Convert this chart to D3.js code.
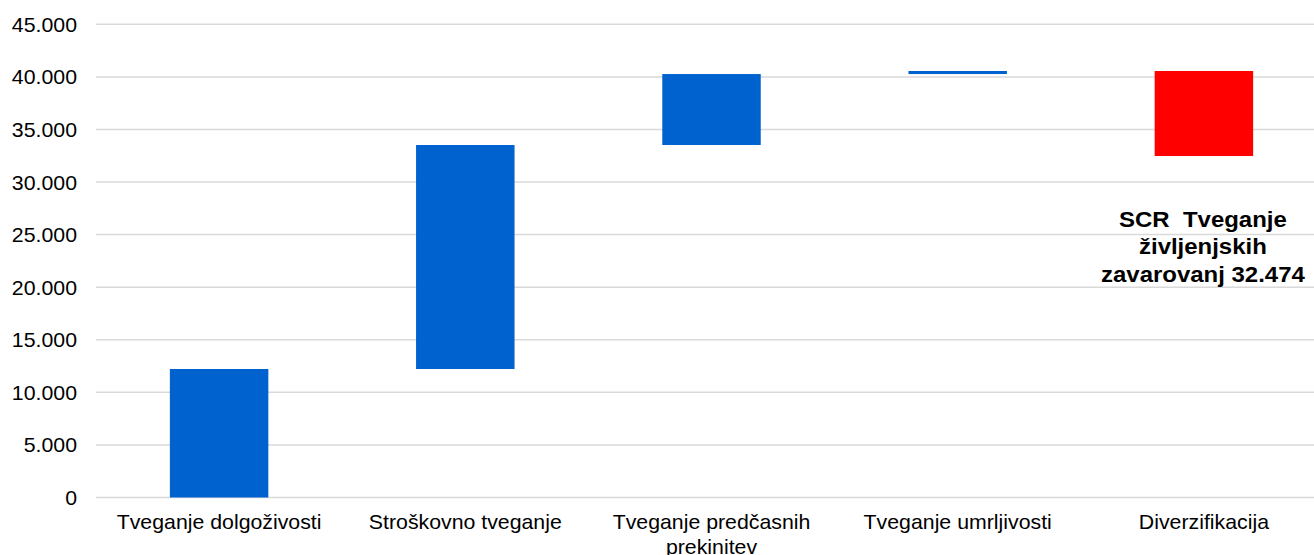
<!DOCTYPE html>
<html>
<head>
<meta charset="utf-8">
<script src="https://cdn.jsdelivr.net/npm/d3@7/dist/d3.min.js"></script>
<style>
  html, body { margin: 0; padding: 0; background: #ffffff; }
  svg { display: block; font-family: "Liberation Sans", Arial, sans-serif; }
</style>
</head>
<body>
<svg id="chart" width="1314" height="555"></svg>
<script>
// Sub-module risks of the life underwriting SCR (waterfall)
const categories = [
  "Tveganje dolgoživosti",
  "Stroškovno tveganje",
  "Tveganje predčasnih prekinitev",
  "Tveganje umrljivosti",
  "Diverzifikacija"
];
// Contribution of each step; the last one is the diversification effect
const deltas = [12220, 21300, 6750, 290, -8086];
const scrTotal = 32474;
const yTicks = [0, 5000, 10000, 15000, 20000, 25000, 30000, 35000, 40000, 45000];
const scrLabelLines = ["SCR  Tveganje", "življenjskih", "zavarovanj 32.474"];

const width = 1314, height = 555;
const stretch = 1.065; // slightly wide lettering
const svg = d3.select("#chart");

const x = d3.scaleBand()
  .domain(categories)
  .range([96, 1327])
  .paddingInner(0.6)
  .paddingOuter(0.3);

const y = d3.scaleLinear()
  .domain([0, 45000])
  .range([497.5, 24.3]);

// running totals -> start / end of every floating bar
let run = 0;
const steps = categories.map((c, i) => {
  const start = run;
  run += deltas[i];
  return { cat: c, start, end: run, neg: deltas[i] < 0 };
});

const fmt = v => d3.format(",")(v).replace(/,/g, ".");

// gridlines
svg.append("g")
  .selectAll("line")
  .data(yTicks)
  .join("line")
  .attr("x1", 96)
  .attr("x2", width)
  .attr("y1", d => y(d))
  .attr("y2", d => y(d))
  .attr("stroke", "#d9d9d9")
  .attr("stroke-width", 1.5);

// value axis labels
const yAxis = d3.axisLeft(y).tickValues(yTicks).tickFormat(fmt).tickSize(0).tickPadding(0);
const gy = svg.append("g").attr("transform", "translate(77,0)").call(yAxis);
gy.select(".domain").remove();
gy.selectAll("text")
  .attr("font-size", 20)
  .attr("fill", "#000")
  .attr("font-family", "Liberation Sans, Arial, sans-serif")
  .attr("dy", "0.35em")
  .attr("transform", `scale(${stretch},1)`);

// bars
svg.append("g")
  .selectAll("rect")
  .data(steps)
  .join("rect")
  .attr("x", d => x(d.cat))
  .attr("width", x.bandwidth())
  .attr("y", d => y(Math.max(d.start, d.end)))
  .attr("height", d => Math.abs(y(d.start) - y(d.end)))
  .attr("fill", d => d.neg ? "#ff0000" : "#0062cf");

// category labels with word wrapping
const xAxis = d3.axisBottom(x).tickSize(0).tickPadding(0);
const gx = svg.append("g").attr("transform", "translate(0,515)").call(xAxis);
gx.select(".domain").remove();
gx.selectAll("text")
  .attr("font-size", 20)
  .attr("fill", "#000")
  .attr("font-family", "Liberation Sans, Arial, sans-serif")
  .attr("dy", "0.71em")
  .attr("transform", `scale(${stretch},1)`)
  .each(function(d) {
    const t = d3.select(this);
    const words = d.split(" ");
    const maxW = x.step() * 0.9 / stretch;
    t.text(null);
    let line = [];
    let tspan = t.append("tspan").attr("x", 0).attr("dy", "0.71em");
    words.forEach(w => {
      line.push(w);
      tspan.text(line.join(" "));
      if (tspan.node().getComputedTextLength() > maxW && line.length > 1) {
        line.pop();
        tspan.text(line.join(" "));
        line = [w];
        tspan = t.append("tspan").attr("x", 0).attr("dy", "1.25em").text(w);
      }
    });
  });

// total annotation under the diversification bar
const last = steps[steps.length - 1];
const cx = x(last.cat) + x.bandwidth() / 2 - 1;
const note = svg.append("g")
  .attr("transform", `translate(${cx},0) scale(${stretch},1)`)
  .append("text")
  .attr("text-anchor", "middle")
  .attr("font-size", 22.5)
  .attr("font-weight", "bold")
  .attr("fill", "#000")
  .attr("font-family", "Liberation Sans, Arial, sans-serif");
scrLabelLines.forEach((s, i) => {
  note.append("tspan")
    .attr("x", 0)
    .attr("y", y(scrTotal) + 70.5 + i * 27.5)
    .attr("xml:space", "preserve")
    .style("white-space", "pre")
    .text(s);
});
</script>
</body>
</html>
